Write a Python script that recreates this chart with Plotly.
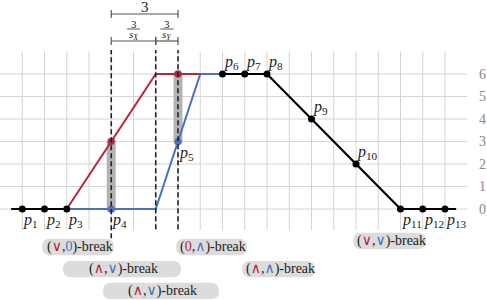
import plotly.graph_objects as go

# ---- data ----
black_left_x = [0.5, 1, 2, 3]
black_left_y = [0, 0, 0, 0]
red_x = [3, 7, 9]
red_y = [0, 6, 6]
blue_x = [3, 7, 9, 10]
blue_y = [0, 0, 6, 6]
black_right_x = [10, 11, 12, 14, 16, 18, 19, 20, 20.5]
black_right_y = [6, 6, 6, 4, 2, 0, 0, 0, 0]

pt_names = ["1", "2", "3", "4", "5", "6", "7", "8", "9", "10", "11", "12", "13"]
pt_x = [1, 2, 3, 5, 8, 10, 11, 12, 14, 16, 18, 19, 20]
pt_y = [0, 0, 0, 0, 3, 6, 6, 6, 4, 2, 0, 0, 0]
pt_color = ["k", "k", "k", "b", "b", "k", "k", "k", "k", "k", "k", "k", "k"]
pt_above = [False, False, False, False, False, True, True, True, True, True, False, False, False]

red_dots_x = [5, 8]
red_dots_y = [3, 6]

break_x = [5, 7, 8]           # dashed verticals
bar_x = [5, 8]                # gray highlight bars
bar_lo = [0, 3]
bar_hi = [3, 6]

y_ticks = [0, 1, 2, 3, 4, 5, 6]
y_tick_labels = ["0", "1", "2", "3", "4", "5", "6"]

RED = "#b3283b"
BLUE = "#4a70c0"

def sym(s, c):
    return f'<span style="color:{c}">{s}</span>'

break_labels = [
    "(" + sym("∨", RED) + "," + sym("0", BLUE) + ")-break",
    "(" + sym("∧", RED) + "," + sym("∨", BLUE) + ")-break",
    "(" + sym("∧", RED) + "," + sym("∨", BLUE) + ")-break",
    "(" + sym("0", RED) + "," + sym("∧", BLUE) + ")-break",
    "(" + sym("∧", RED) + "," + sym("∧", BLUE) + ")-break",
    "(" + sym("∨", RED) + "," + sym("∨", BLUE) + ")-break",
]
break_x0 = [1.89, 2.83, 4.63, 7.91, 10.88, 15.87]
break_x1 = [5.12, 8.13, 9.84, 11.10, 14.16, 19.15]
break_yc = [-1.69, -2.67, -3.64, -1.69, -2.67, -1.42]

# ---- geometry helpers ----
PX_X = 22.25   # px per x unit
PX_Y = 22.5    # px per y unit
W, H = 487, 300
PLOT_RIGHT = 470  # px of plot-area right edge
R_MARGIN = W - PLOT_RIGHT
x_range = [0, PLOT_RIGHT / PX_X]
y_range = [-(H - 209) / PX_Y, 209 / PX_Y]

def py(page_y):
    return (209 - page_y) / PX_Y

def rrect(x0, x1, y0, y1, rpx):
    rx = rpx / PX_X
    ry = rpx / PX_Y
    return (f"M {x0+rx},{y0} L {x1-rx},{y0} Q {x1},{y0} {x1},{y0+ry} "
            f"L {x1},{y1-ry} Q {x1},{y1} {x1-rx},{y1} L {x0+rx},{y1} "
            f"Q {x0},{y1} {x0},{y1-ry} L {x0},{y0+ry} Q {x0},{y0} {x0+rx},{y0} Z")

shapes = []
GRID = "#d4d4d4"
# grid
for yv in y_ticks:
    shapes.append(dict(type="line", x0=0, x1=21, y0=yv, y1=yv,
                       line=dict(color=GRID, width=1), layer="below"))
for xv in range(1, 21):
    shapes.append(dict(type="line", x0=xv, x1=xv, y0=-0.95, y1=7.0,
                       line=dict(color=GRID, width=1), layer="below"))
# gray bars
for bx, lo, hi in zip(bar_x, bar_lo, bar_hi):
    hw = 4.5 / PX_X
    ext = 4.0 / PX_Y
    shapes.append(dict(type="path", path=rrect(bx - hw, bx + hw, lo - ext, hi + ext, 4.5),
                       fillcolor="#b3b3b3", line=dict(width=0), layer="below"))
# dashed verticals
for bx in break_x:
    shapes.append(dict(type="line", x0=bx, x1=bx, y0=-0.9 if bx != 5 else -1.3, y1=py(50),
                       line=dict(color="#222", width=1.6, dash="5px,3px"), layer="above"))
# break label pills
for x0, x1, yc in zip(break_x0, break_x1, break_yc):
    hh = 8.2 / PX_Y
    shapes.append(dict(type="path", path=rrect(x0, x1, yc - hh, yc + hh, 8.2),
                       fillcolor="#dcdcdc", line=dict(width=0), layer="below"))

# brackets
BR = "#555555"
cap = 4 / PX_Y
def bracket(xa, xb, y):
    shapes.append(dict(type="line", x0=xa, x1=xb, y0=y, y1=y, line=dict(color=BR, width=1.2)))
    for xv in (xa, xb):
        shapes.append(dict(type="line", x0=xv, x1=xv, y0=y - cap, y1=y + cap,
                           line=dict(color=BR, width=1.2)))
bracket(5, 8, py(14))
bracket(5, 7, py(41))
bracket(7, 8, py(41))
# fraction bars
for cx in (6, 7.5):
    hw = 6.5 / PX_X
    shapes.append(dict(type="line", x0=cx - hw, x1=cx + hw, y0=py(29), y1=py(29),
                       line=dict(color="#333", width=0.8)))

fig = go.Figure()
fig.add_trace(go.Scatter(x=red_x, y=red_y, mode="lines", line=dict(color=RED, width=2)))
fig.add_trace(go.Scatter(x=blue_x, y=blue_y, mode="lines", line=dict(color=BLUE, width=2)))
fig.add_trace(go.Scatter(x=black_left_x, y=black_left_y, mode="lines", line=dict(color="black", width=2.2)))
fig.add_trace(go.Scatter(x=black_right_x, y=black_right_y, mode="lines", line=dict(color="black", width=2.2)))

cmap = {"k": "black", "b": BLUE}
fig.add_trace(go.Scatter(x=pt_x, y=pt_y, mode="markers",
                         marker=dict(size=7, color=[cmap[c] for c in pt_color])))
fig.add_trace(go.Scatter(x=red_dots_x, y=red_dots_y, mode="markers",
                         marker=dict(size=7, color=RED)))

FONT = "Liberation Serif, DejaVu Serif, serif"
ann = []
for n, x, y, above in zip(pt_names, pt_x, pt_y, pt_above):
    ann.append(dict(x=x, y=y, xref="x", yref="y", text=f"<i>p</i><sub>{n}</sub>",
                    showarrow=False, xanchor="left", yanchor="bottom" if above else "top",
                    xshift=0, yshift=1 if above else -1, borderpad=0,
                    font=dict(family=FONT, size=16, color="#222")))
for lab, x0, x1, yc in zip(break_labels, break_x0, break_x1, break_yc):
    ann.append(dict(x=(x0 + x1) / 2 + 0.08, y=yc, xref="x", yref="y", text=lab, showarrow=False,
                    xanchor="center", yanchor="middle", borderpad=0,
                    font=dict(family=FONT, size=14, color="#222")))
ann.append(dict(x=6.5, y=py(6.5), text="3", showarrow=False, xanchor="center", yanchor="middle",
                borderpad=0, font=dict(family=FONT, size=15, color="#222")))
for cx, sub in ((6, "X"), (7.5, "Y")):
    ann.append(dict(x=cx, y=py(23.5), text="3", showarrow=False, xanchor="center", yanchor="middle",
                    borderpad=0, font=dict(family=FONT, size=11, color="#222")))
    ann.append(dict(x=cx, y=py(35), text=f"<i>s</i><sub><i>{sub}</i></sub>", showarrow=False,
                    xanchor="center", yanchor="middle", borderpad=0,
                    font=dict(family=FONT, size=11, color="#222")))
# y tick labels (right side)
for tv, tl in zip(y_ticks, y_tick_labels):
    ann.append(dict(x=1, xref="paper", y=tv, yref="y", text=tl, showarrow=False,
                    xanchor="left", yanchor="middle", xshift=8, borderpad=0,
                    font=dict(family=FONT, size=14, color="#888")))

fig.update_layout(
    width=W, height=H, margin=dict(l=0, r=R_MARGIN, t=0, b=0),
    plot_bgcolor="white", paper_bgcolor="white", showlegend=False,
    shapes=shapes, annotations=ann, hovermode=False,
    xaxis=dict(range=x_range, showgrid=False, zeroline=False, visible=False),
    yaxis=dict(range=y_range, showgrid=False, zeroline=False, visible=False),
)
fig.write_html(
    "out.html",
    config={"displayModeBar": False, "staticPlot": True},
    post_script="document.body.style.margin='0';"
                "document.documentElement.style.overflow='hidden';"
                "document.body.style.overflow='hidden';",
)
